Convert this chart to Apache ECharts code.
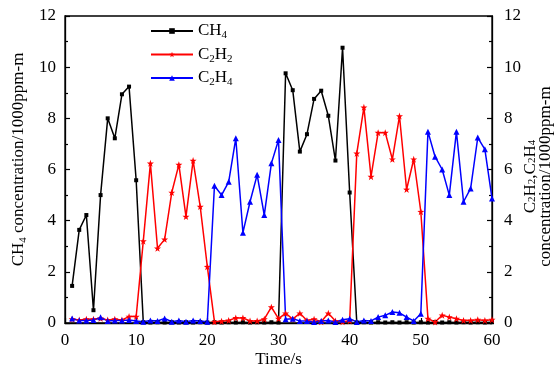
<!DOCTYPE html>
<html>
<head>
<meta charset="utf-8">
<script src="https://cdn.jsdelivr.net/npm/echarts@6/dist/echarts.min.js"></script>
<style>
html,body{margin:0;padding:0;background:#fff;}
#chart{width:557px;height:371px;}
</style>
</head>
<body>
<div id="chart"></div>
<script>
const times = [1,2,3,4,5,6,7,8,9,10,11,12,13,14,15,16,17,18,19,20,21,22,23,24,25,26,27,28,29,30,31,32,33,34,35,36,37,38,39,40,41,42,43,44,45,46,47,48,49,50,51,52,53,54,55,56,57,58,59,60];
const ch4 = [1.45,3.64,4.22,0.5,5.0,8.0,7.22,8.94,9.24,5.58,
  0.03,0.02,0.03,0.02,0.03,0.02,0.03,0.02,0.03,0.02,
  0.03,0.02,0.03,0.02,0.03,0.02,0.03,0.02,0.03,0.02,
  9.76,9.1,6.7,7.38,8.76,9.08,8.1,6.35,10.76,5.1,
  0.02,0.03,0.02,0.03,0.02,0.03,0.02,0.03,0.02,0.03,
  0.02,0.03,0.02,0.03,0.02,0.03,0.02,0.03,0.02,0.03];
const c2h2 = [0.15,0.12,0.15,0.15,0.18,0.12,0.15,0.12,0.25,0.25,
  3.2,6.24,2.92,3.27,5.1,6.19,4.16,6.35,4.55,2.2,
  0.05,0.07,0.1,0.2,0.2,0.08,0.08,0.15,0.62,0.17,
  0.38,0.15,0.38,0.1,0.15,0.05,0.38,0.08,0.05,0.08,
  6.63,8.43,5.72,7.44,7.44,6.4,8.09,5.22,6.4,4.35,
  0.17,0.04,0.3,0.23,0.17,0.1,0.1,0.13,0.1,0.13];
const c2h4 = [0.18,0.1,0.1,0.12,0.22,0.08,0.1,0.1,0.12,0.08,
  0.05,0.1,0.08,0.18,0.05,0.1,0.05,0.1,0.08,0.05,
  5.36,5.0,5.52,7.22,3.53,4.74,5.79,4.22,6.24,7.15,
  0.15,0.17,0.08,0.08,0.04,0.08,0.1,0.04,0.13,0.17,
  0.04,0.1,0.08,0.23,0.3,0.43,0.4,0.23,0.08,0.36,
  7.48,6.5,6.0,5.0,7.48,4.74,5.26,7.25,6.79,4.87];
const seriesNames = ['CH4','C2H2','C2H4'];
const legendLabels = {
  'CH4': '{n|CH}{s|4}',
  'C2H2': '{n|C}{s|2}{n|H}{s|2}',
  'C2H4': '{n|C}{s|2}{n|H}{s|4}'
};

const FONT = 'Liberation Serif';
const rich = {
  n: {fontFamily: FONT, fontSize: 17, color: '#000', lineHeight: 20, verticalAlign: 'middle'},
  s: {fontFamily: FONT, fontSize: 11, color: '#000', lineHeight: 10, padding: [10,0,0,0], verticalAlign: 'bottom'}
};
const richTight = {
  n: {fontFamily: FONT, fontSize: 17, color: '#000', lineHeight: 15, verticalAlign: 'middle'},
  s: {fontFamily: FONT, fontSize: 11, color: '#000', lineHeight: 8, padding: [7,0,0,0], verticalAlign: 'bottom'}
};
const starPath = 'path://M0,-10L2.35,-3.24L9.51,-3.09L3.8,1.24L5.88,8.09L0,4L-5.88,8.09L-3.8,1.24L-9.51,-3.09L-2.35,-3.24Z';

const toPairs = arr => times.map((t, i) => [t, arr[i]]);

const yAxisCommon = {
  type: 'value', min: 0, max: 12, interval: 2,
  axisLine: {show: true, lineStyle: {color: '#000', width: 1.3}},
  axisTick: {show: true, inside: true, length: 5, lineStyle: {color: '#000', width: 1.2}},
  minorTick: {show: true, splitNumber: 2, length: 3, lineStyle: {color: '#000', width: 1.2}},
  splitLine: {show: false},
  axisLabel: {fontFamily: FONT, fontSize: 17, color: '#000'},
  nameLocation: 'middle', nameRotate: 90, nameMoveOverlap: false
};

const chart = echarts.init(document.getElementById('chart'), null, {renderer: 'canvas'});
chart.setOption({
  animation: false,
  backgroundColor: '#fff',
  grid: {left: 65, right: 65, top: 16, bottom: 48, show: true, borderColor: '#000', borderWidth: 1.3,
         containLabel: false, outerBoundsMode: 'none'},
  legend: {
    orient: 'vertical', left: 150, top: 20, padding: 0,
    itemWidth: 42, itemHeight: 7, itemGap: 2.5,
    data: seriesNames,
    formatter: name => legendLabels[name],
    textStyle: {rich: rich}
  },
  xAxis: {
    type: 'value', min: 0, max: 60, interval: 10,
    axisLine: {show: true, onZero: false, lineStyle: {color: '#000', width: 1.3}},
    axisTick: {show: true, inside: true, length: 5, lineStyle: {color: '#000', width: 1.2}},
    splitLine: {show: false},
    axisLabel: {fontFamily: FONT, fontSize: 17, color: '#000', margin: 9},
    name: 'Time/s', nameLocation: 'middle', nameGap: 28, nameMoveOverlap: false,
    nameTextStyle: {fontFamily: FONT, fontSize: 17, color: '#000'}
  },
  yAxis: [
    Object.assign({}, yAxisCommon, {
      position: 'left',
      name: '{n|CH}{s|4}{n| concentration/1000ppm-m}',
      nameGap: 36,
      nameTextStyle: {rich: rich, align: 'center', padding: [0, 0, 0, 20]},
      axisLabel: {fontFamily: FONT, fontSize: 17, color: '#000', margin: 9}
    }),
    Object.assign({}, yAxisCommon, {
      position: 'right',
      name: '{n|C}{s|2}{n|H}{s|2}{n|,C}{s|2}{n|H}{s|4}\n{n|concentration/1000ppm-m}',
      nameGap: 31,
      nameTextStyle: {rich: richTight, align: 'center', padding: [0, 14, 0, 0]},
      axisLabel: {fontFamily: FONT, fontSize: 17, color: '#000', margin: 12}
    })
  ],
  series: [
    {
      name: 'CH4', type: 'line', yAxisIndex: 0, data: toPairs(ch4),
      symbol: 'rect', symbolSize: 4, showSymbol: true,
      lineStyle: {color: '#000', width: 1.5}, itemStyle: {color: '#000'}, color: '#000'
    },
    {
      name: 'C2H2', type: 'line', yAxisIndex: 1, data: toPairs(c2h2),
      symbol: starPath, symbolSize: 7, showSymbol: true,
      lineStyle: {color: '#ff0000', width: 1.5}, itemStyle: {color: '#ff0000'}, color: '#ff0000'
    },
    {
      name: 'C2H4', type: 'line', yAxisIndex: 1, data: toPairs(c2h4),
      symbol: 'triangle', symbolSize: 6, showSymbol: true,
      lineStyle: {color: '#0000ff', width: 1.5}, itemStyle: {color: '#0000ff'}, color: '#0000ff'
    }
  ]
});
</script>
</body>
</html>
